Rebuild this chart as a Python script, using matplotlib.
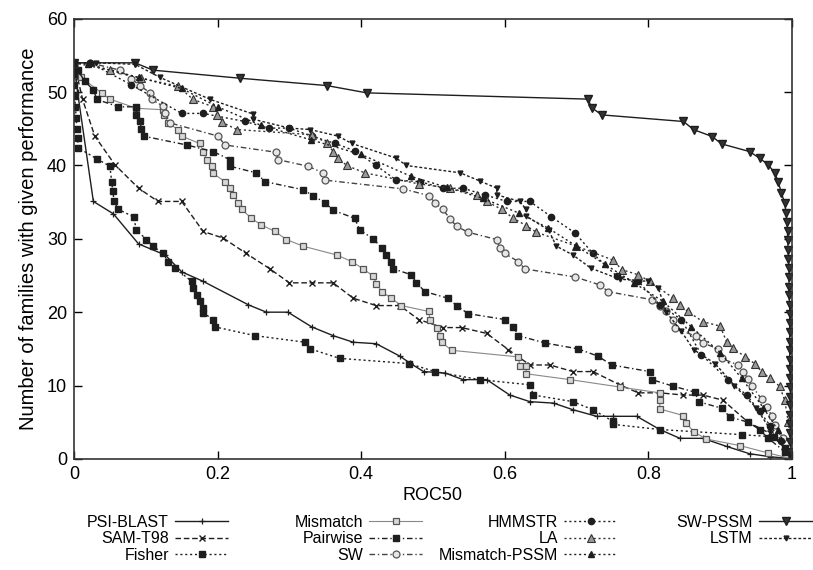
import matplotlib
matplotlib.use("Agg")
import matplotlib.pyplot as plt

plt.rcParams['font.family'] = ['Liberation Sans', 'DejaVu Sans']

# ROC50 curves: x = ROC50 threshold, y = number of families
psi_x = [0, 0.005, 0.027, 0.055, 0.09, 0.127, 0.15, 0.18, 0.243, 0.268, 0.298, 0.331, 0.361, 0.389,
         0.421, 0.454, 0.468, 0.487, 0.517, 0.542, 0.575, 0.607, 0.635, 0.668, 0.695, 0.728, 0.751,
         0.784, 0.816, 0.844, 0.876, 0.909, 0.941, 0.969, 1.0]
psi_y = [54, 50, 35.1, 33.4, 29.3, 27.8, 25.5, 24.2, 21, 20, 20, 18, 16.8, 15.9,
         15.7, 14, 13.05, 11.9, 11.7, 10.8, 10.8, 8.7, 7.8, 7.6, 6.7, 5.8, 5.8,
         5.8, 4.0, 2.8, 2.8, 1.7, 0.7, 0.3, 0]

sam_x = [0, 0.005, 0.012, 0.029, 0.057, 0.09, 0.117, 0.15, 0.18, 0.208, 0.24, 0.273, 0.30, 0.331,
         0.361, 0.389, 0.421, 0.454, 0.48, 0.514, 0.54, 0.575, 0.605, 0.635, 0.663, 0.695, 0.723,
         0.76, 0.786, 0.816, 0.849, 0.876, 0.904, 0.939, 0.969, 0.99, 1.0]
sam_y = [54, 52, 49, 44, 40.1, 36.9, 35.1, 35.1, 31, 30.1, 28, 25.9, 24, 24,
         24, 21.9, 20.9, 20.9, 19, 17.9, 17.9, 17.1, 14.9, 12.8, 12.8, 11.9, 11.9,
         10.1, 9.0, 9.0, 8.7, 8.7, 8.0, 5.0, 3.5, 1.5, 0]

fisher_x = [0, 0, 0, 0.001, 0.002, 0.003, 0.004, 0.005, 0.006, 0.032, 0.05, 0.0525, 0.054, 0.056,
            0.062, 0.083, 0.087, 0.101, 0.11, 0.124, 0.131, 0.141, 0.164, 0.166, 0.171, 0.175,
            0.18, 0.18, 0.194, 0.196, 0.252, 0.322, 0.329, 0.37, 0.466, 0.503, 0.565, 0.635,
            0.64, 0.695, 0.723, 0.751, 0.751, 0.816, 0.93, 0.975, 0.99, 1.0]
fisher_y = [54, 52.5, 51, 49.5, 48, 46.5, 45, 43.7, 42.4, 40.9, 39.9, 37.8, 36.5, 35.1,
            34, 33, 31.2, 29.9, 29, 28, 26.9, 26, 24.2, 23.3, 22.4, 21.5,
            20.6, 19.9, 19, 18, 16.8, 15.9, 15, 13.7, 13, 11.9, 10.8, 10.1,
            8.7, 7.8, 6.7, 5.1, 4.7, 4.0, 3.3, 3.0, 1.5, 0]

mm_x = [0, 0.01, 0.0385, 0.05, 0.087, 0.124, 0.126, 0.131, 0.145, 0.15, 0.175, 0.18, 0.185, 0.192,
        0.193, 0.21, 0.217, 0.222, 0.229, 0.234, 0.247, 0.261, 0.28, 0.296, 0.319, 0.366, 0.387,
        0.403, 0.417, 0.421, 0.429, 0.442, 0.456, 0.494, 0.496, 0.505, 0.51, 0.512, 0.526, 0.619,
        0.621, 0.63, 0.63, 0.691, 0.76, 0.816, 0.816, 0.816, 0.849, 0.853, 0.863, 0.881, 0.928,
        0.967, 1.0]
mm_y = [54, 52, 49.9, 49.05, 47.8, 47.6, 46.9, 45.8, 44.9, 44, 43, 41.9, 40.8, 39.9,
        39, 37.8, 36.9, 36, 34.9, 34, 32.8, 31.9, 31, 29.9, 29, 27.8, 26.9,
        25.9, 24.9, 23.9, 22.8, 21.9, 20.9, 20.1, 19, 17.8, 16.8, 15.9, 14.8, 13.9,
        12.7, 12.6, 11.6, 10.8, 9.8, 9.0, 8.0, 6.8, 5.9, 4.9, 3.7, 2.7, 1.8,
        0.8, 0]

pw_x = [0, 0.005, 0.015, 0.027, 0.032, 0.062, 0.087, 0.087, 0.092, 0.094, 0.097, 0.157, 0.194,
        0.217, 0.217, 0.254, 0.266, 0.319, 0.333, 0.35, 0.361, 0.391, 0.398, 0.417, 0.429, 0.434,
        0.442, 0.445, 0.47, 0.477, 0.489, 0.521, 0.533, 0.549, 0.600, 0.612, 0.619, 0.656, 0.702,
        0.730, 0.749, 0.802, 0.805, 0.835, 0.865, 0.87, 0.902, 0.914, 0.939, 0.955, 0.967, 0.99, 1.0]
pw_y = [54, 53, 51.5, 50.3, 49, 48, 48, 46.9, 46, 45, 44, 42.8, 41.9,
        40.8, 39.9, 39, 37.8, 36.7, 35.9, 34.9, 33.9, 32.8, 31.2, 30, 28.7, 27.8,
        26.9, 25.9, 25.1, 24, 22.8, 21.9, 20.9, 19.8, 19, 18, 16.8, 15.8, 15,
        14, 12.8, 11.9, 10.8, 9.9, 9.1, 7.8, 6.9, 5.7, 5.0, 4.0, 2.8, 1.0, 0]

sw_x = [0, 0.022, 0.064, 0.08, 0.092, 0.106, 0.108, 0.124, 0.127, 0.134, 0.201, 0.21, 0.282, 0.284,
        0.326, 0.347, 0.35, 0.459, 0.494, 0.503, 0.514, 0.524, 0.533, 0.549, 0.589, 0.593, 0.6,
        0.619, 0.628, 0.698, 0.733, 0.744, 0.805, 0.816, 0.825, 0.835, 0.837, 0.867, 0.876, 0.897,
        0.902, 0.925, 0.932, 0.939, 0.945, 0.958, 0.965, 0.972, 0.976, 0.988, 1.0]
sw_y = [54, 54, 53, 51.8, 50.9, 49.9, 49, 48.1, 47.1, 45.8, 44, 42.8, 41.8, 40.8,
        39.9, 39, 38, 36.8, 35.9, 34.9, 34, 32.7, 31.7, 30.9, 29.9, 28.7, 28,
        26.9, 25.9, 24.8, 23.7, 22.8, 21.7, 20.9, 20.1, 19, 17.8, 16.7, 15.8, 15,
        13.7, 12.8, 11.9, 10.9, 9.9, 8.1, 7.1, 5.9, 4.6, 2.8, 0]

hm_x = [0, 0.022, 0.08, 0.15, 0.18, 0.238, 0.271, 0.30, 0.331, 0.364, 0.391, 0.421, 0.449, 0.482,
        0.514, 0.542, 0.572, 0.603, 0.635, 0.665, 0.698, 0.723, 0.756, 0.786, 0.816, 0.846, 0.874,
        0.911, 0.937, 0.955, 0.97, 0.985, 0.995, 1.0]
hm_y = [54, 54, 51, 47.1, 47.1, 46, 45.1, 45.1, 44, 43, 42, 40, 38, 37.8,
        36.9, 36.9, 36, 35.1, 35.1, 33, 30.8, 28, 24.9, 24.2, 21, 19, 14.2,
        10.8, 8.7, 6.5, 4.5, 2.5, 1, 0]

la_x = [0, 0.05, 0.094, 0.145, 0.166, 0.194, 0.199, 0.206, 0.227, 0.331, 0.352, 0.361, 0.368, 0.38,
        0.405, 0.48, 0.524, 0.561, 0.575, 0.596, 0.612, 0.63, 0.644, 0.70, 0.751, 0.763, 0.786,
        0.802, 0.835, 0.844, 0.855, 0.876, 0.9, 0.909, 0.918, 0.935, 0.948, 0.958, 0.969, 0.983,
        0.99, 0.995, 1.0]
la_y = [54, 53, 51.9, 50.8, 49, 48, 46.9, 45.9, 44.9, 44.2, 43.1, 41.9, 41, 40,
        39, 37.5, 36.9, 36, 35.1, 34, 32.8, 31.8, 30.9, 29, 27.1, 25.8, 25.1,
        24.2, 21.9, 21, 20.1, 18.7, 18.1, 16, 15.1, 13.9, 13, 11.9, 11, 9.9,
        8, 5, 0]

mmp_x = [0, 0.02, 0.09, 0.15, 0.2, 0.26, 0.33, 0.4, 0.47, 0.52, 0.57, 0.62, 0.66, 0.70, 0.74,
         0.78, 0.82, 0.86, 0.9, 0.93, 0.96, 0.98, 1.0]
mmp_y = [54, 53.8, 52, 50.5, 48, 45.5, 43.5, 41.5, 38.5, 37, 35.5, 33.5, 31.5, 29, 26.5,
         24, 21.5, 18, 14.5, 11, 7, 4, 0]

swp_x = [0, 0.085, 0.11, 0.231, 0.352, 0.408, 0.716, 0.721, 0.735, 0.849, 0.863, 0.889, 0.902,
         0.941, 0.955, 0.967, 0.976, 0.981, 0.9855, 0.990, 0.992, 0.993, 0.994, 0.994, 0.995,
         0.995, 0.996, 0.996, 0.996, 0.996, 0.997, 0.997, 0.997, 0.997, 0.997, 0.997, 0.997,
         0.997, 0.998, 0.998, 0.998, 0.998, 0.998, 0.998, 0.998, 0.998, 0.999, 1.0]
swp_y = [54, 54, 53, 51.9, 50.9, 49.9, 49.05, 47.9, 46.9, 46, 44.9, 43.95, 42.95,
         41.9, 41, 40.1, 39, 37.8, 36.2, 34.9, 33.5, 32.3, 31, 29.8, 28.5,
         27.3, 26, 24.8, 23.5, 22.3, 21, 19.8, 18.5, 17.3, 16, 14.8, 13.5,
         12.3, 11, 9.8, 8.5, 7.3, 6, 4.8, 3.5, 2.3, 1, 0]

lstm_x = [0, 0.03, 0.085, 0.12, 0.19, 0.25, 0.25, 0.30, 0.329, 0.368, 0.387, 0.449, 0.463, 0.538,
          0.565, 0.589, 0.589, 0.621, 0.63, 0.63, 0.661, 0.672, 0.695, 0.72, 0.76, 0.8, 0.814,
          0.825, 0.846, 0.863, 0.893, 0.92, 0.95, 0.97, 0.99, 1.0]
lstm_y = [54, 54, 53.8, 52, 49, 47, 46.3, 45.1, 44.9, 44, 43, 41, 40, 39,
          37.9, 36.9, 36, 35.1, 34, 33.1, 31.2, 29, 27.8, 26, 24.5, 24.2, 23.3,
          20, 17.4, 14.9, 13, 10, 7, 4, 1.5, 0]

ink = '#1e1e1e'
series = [
    ('PSI-BLAST', psi_x, psi_y, dict(ls='-', marker='+', ms=4.5, mew=0.9, color=ink)),
    ('SAM-T98', sam_x, sam_y, dict(ls=(0, (4, 2)), marker='x', ms=5, mew=1.0, color=ink)),
    ('Fisher', fisher_x, fisher_y, dict(ls=(0, (1.5, 2)), marker='s', ms=3.8, mfc=ink, color=ink)),
    ('Mismatch', mm_x, mm_y, dict(ls='-', lw=0.8, marker='s', ms=5, mfc='#d8d8d8', mec='#555555', mew=0.9, color='#888888')),
    ('Pairwise', pw_x, pw_y, dict(ls=(0, (4, 2, 1, 2)), marker='s', ms=4.2, mfc=ink, color=ink)),
    ('SW', sw_x, sw_y, dict(ls=(0, (4, 2, 1, 2)), marker='o', ms=5, mfc='#e6e6e6', mec='#555555', mew=0.9, color='#444444')),
    ('HMMSTR', hm_x, hm_y, dict(ls=(0, (1.5, 2)), marker='o', ms=4.5, mfc=ink, color=ink)),
    ('LA', la_x, la_y, dict(ls=(0, (1.5, 2)), marker='^', ms=5.3, mfc='#9a9a9a', mec='#333333', mew=0.8, color='#333333')),
    ('Mismatch-PSSM', mmp_x, mmp_y, dict(ls=(0, (1.5, 2)), marker='^', ms=4.6, mfc=ink, color=ink)),
    ('SW-PSSM', swp_x, swp_y, dict(ls='-', marker='v', ms=5.3, mfc='#333333', mec=ink, color=ink)),
    ('LSTM', lstm_x, lstm_y, dict(ls=(0, (2, 1.5)), marker='v', ms=3.5, mfc=ink, color=ink)),
]

fig = plt.figure(figsize=(8.13, 5.70), dpi=100)
ax = fig.add_axes([0.091, 0.195, 0.883, 0.772])

handles = []
for name, xs, ys, st in series:
    st = dict(st)
    st.setdefault('lw', 1.0)
    line, = ax.plot(xs, ys, label=name, **st)
    handles.append(line)

ax.set_xlim(0, 1)
ax.set_ylim(0, 60)
ax.set_xticks([0, 0.2, 0.4, 0.6, 0.8, 1])
ax.set_xticklabels(['0', '0.2', '0.4', '0.6', '0.8', '1'])
ax.set_yticks([0, 10, 20, 30, 40, 50, 60])
ax.tick_params(direction='in', length=6, width=1, top=True, right=True, labelsize=13, pad=5)
for sp in ax.spines.values():
    sp.set_linewidth(1.2)
    sp.set_color('#333333')
ax.set_xlabel('ROC50', fontsize=13, labelpad=3)
ax.set_ylabel('Number of families with given performance', fontsize=14.5, labelpad=6)

# four right-aligned legend columns under the axes
col_groups = [handles[0:3], handles[3:6], handles[6:9], handles[9:11]]
col_right = [228, 422, 617, 812]
for grp, xr in zip(col_groups, col_right):
    fig.legend(handles=grp, loc='upper right', bbox_to_anchor=(xr / 813, 1 - 515 / 570),
               frameon=False, markerfirst=False, fontsize=11.5, handlelength=3.3,
               handletextpad=0.4, labelspacing=0.08, borderaxespad=0, borderpad=0)

fig.savefig('out.png', dpi=100)
